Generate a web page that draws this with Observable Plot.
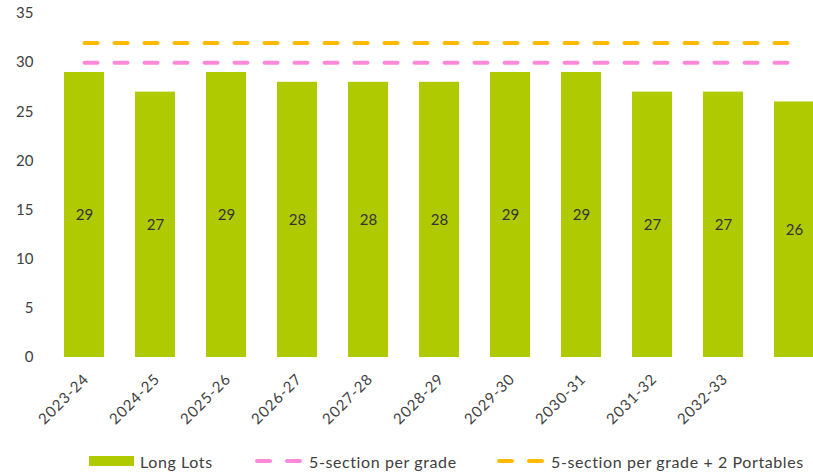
<!DOCTYPE html>
<html>
<head>
<meta charset="utf-8">
<script src="https://cdn.jsdelivr.net/npm/d3@7"></script>
<script src="https://cdn.jsdelivr.net/npm/@observablehq/plot@0.6"></script>
<style>
  body { margin: 0; background: #fff; font-family: Lato, "Open Sans", sans-serif; }
  #chart { position: relative; width: 813px; height: 472px; overflow: hidden; }
  #legend { position: absolute; top: 450px; left: 0; width: 813px; height: 22px; font-size: 16px; letter-spacing: 0.6px; color: #404040; }
  .item { position: absolute; top: 0; display: flex; align-items: center; height: 22px; white-space: nowrap; }
  .item svg { margin-right: 6px; }
  g[aria-label="x-axis tick label"] text { letter-spacing: 0.9px; }
</style>
</head>
<body>
<div id="chart"></div>
<script>
const categories = ["2023-24","2024-25","2025-26","2026-27","2027-28","2028-29","2029-30","2030-31","2031-32","2032-33","2033-34"];
const tickLabels = ["2023-24","2024-25","2025-26","2026-27","2027-28","2028-29","2029-30","2030-31","2031-32","2032-33",""];
const longLots = [29,27,29,28,28,28,29,29,27,27,26];
const fiveSection = [30,30,30,30,30,30,30,30,30,30,30];
const fiveSectionPortables = [32,32,32,32,32,32,32,32,32,32,32];
const yTicks = [0,5,10,15,20,25,30,35];
const seriesNames = ["Long Lots","5-section per grade","5-section per grade + 2 Portables"];
const colors = ["#afca00","#ff88d8","#ffba00"];

const data = categories.map((c,i) => ({cat: c, v: longLots[i], a: fiveSection[i], b: fiveSectionPortables[i], label: tickLabels[i]}));

const plot = Plot.plot({
  width: 813,
  height: 440,
  marginLeft: 48,
  marginRight: 0,
  marginTop: 13,
  marginBottom: 83,
  style: {fontFamily: "Lato, 'Open Sans', sans-serif", color: "#404040", background: "#fff"},
  x: {domain: categories, range: [48, 829], paddingInner: 0.44, paddingOuter: 0.22},
  y: {domain: [0, 35], range: [357, 13]},
  marks: [
    Plot.ruleY(yTicks, {stroke: "#d9d9d9", strokeWidth: 1.3, x1: 48, x2: 813}),
    Plot.axisY(yTicks, {tickSize: 0, tickPadding: 15, fontSize: 15, label: null, fill: "#404040"}),
    Plot.barY(data, {x: "cat", y: "v", fill: colors[0]}),
    Plot.text(data, {x: "cat", y: d => d.v / 2, text: d => String(d.v), fontSize: 15, fill: "#333"}),
    Plot.line(data, {x: "cat", y: "a", stroke: colors[1], strokeWidth: 4, strokeDasharray: "13,17", strokeLinecap: "round"}),
    Plot.line(data, {x: "cat", y: "b", stroke: colors[2], strokeWidth: 4, strokeDasharray: "13,17", strokeLinecap: "round"}),
    Plot.axisX({tickSize: 0, tickPadding: 19, tickRotate: -45, fontSize: 15, label: null, fill: "#404040", dx: 2, tickFormat: d => tickLabels[categories.indexOf(d)]})
  ]
});
const chart = document.getElementById("chart");
chart.appendChild(plot);

const legend = document.createElement("div");
legend.id = "legend";
const pos = [89, 255, 497];
seriesNames.forEach((name, i) => {
  const item = document.createElement("div");
  item.className = "item";
  item.style.left = pos[i] + "px";
  let sw;
  if (i === 0) {
    sw = `<svg width="45" height="12"><rect x="0" y="1" width="45" height="10" fill="${colors[0]}"/></svg>`;
  } else {
    sw = `<svg width="48" height="12"><line x1="2" y1="6" x2="46" y2="6" stroke="${colors[i]}" stroke-width="4" stroke-linecap="round" stroke-dasharray="13,17"/></svg>`;
  }
  item.innerHTML = sw + `<span>${name}</span>`;
  legend.appendChild(item);
});
chart.appendChild(legend);
</script>
</body>
</html>
